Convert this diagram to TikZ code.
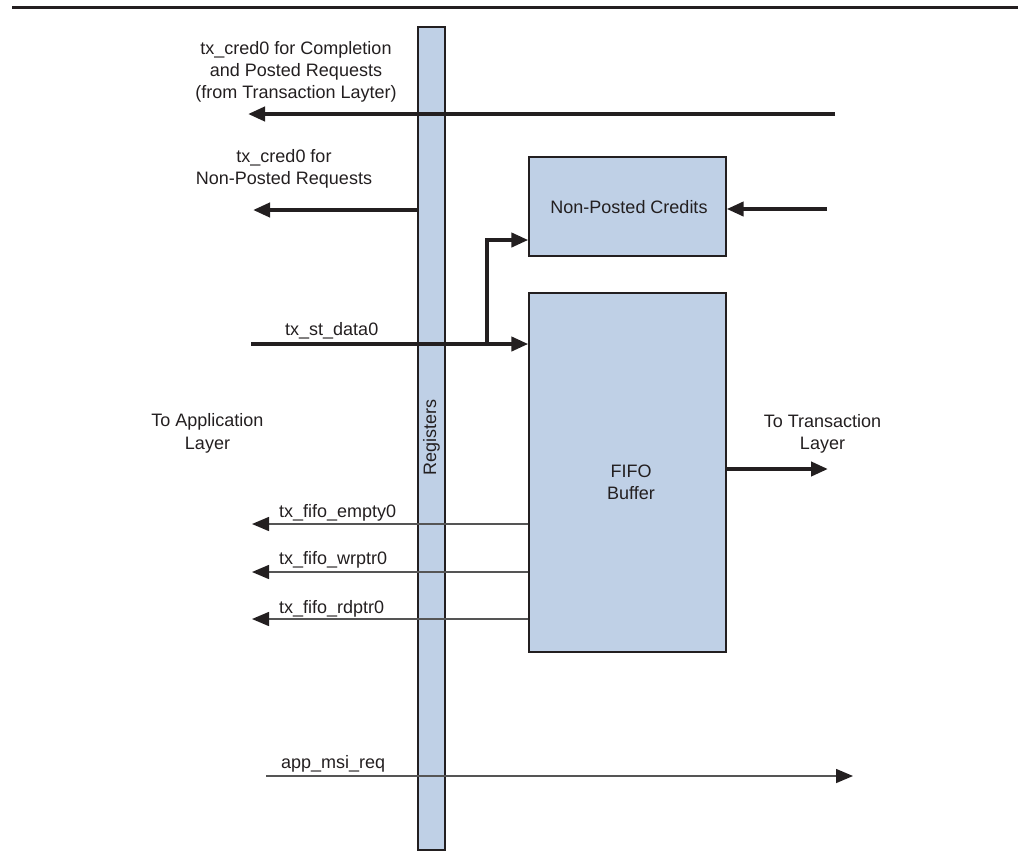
\documentclass[tikz,border=0pt]{standalone}
\usepackage{fontspec}
\setmainfont{Liberation Sans}
\usetikzlibrary{arrows.meta}
\definecolor{ink}{HTML}{231F20}
\definecolor{thinline}{HTML}{555555}
\definecolor{boxblue}{HTML}{BFD0E6}
\tikzset{
  blk/.style={draw=ink, line width=1.3pt, fill=boxblue, inner sep=0pt},
  lbl/.style={inner sep=0pt, text=ink, font=\fontsize{18}{22}\selectfont, anchor=base},
  lbll/.style={lbl, anchor=base west},
  thick conn/.style={draw=ink, line width=4pt, -{Triangle[length=17pt,width=14pt]}},
  thin conn/.style={draw=thinline, line width=1.5pt, -{Triangle[length=17pt,width=14pt,color=ink]}},
}
\begin{document}
\begin{tikzpicture}[x=1pt,y=-1pt]
\useasboundingbox (0,0) rectangle (1018,863);
\draw[ink, line width=3pt] (12,7) -- (1018,7);

% blocks
\node[blk, minimum width=27pt, minimum height=823pt] (reg) at (431.5,438.5) {};
\node[lbl, anchor=center, rotate=90] (reglbl) at (431.5,437) {Registers};
\node[blk, minimum width=197pt, minimum height=99pt] (npc) at (627.5,206.5) {};
\node[lbl] (npclbl) at (629,213) {Non-Posted Credits};
\node[blk, minimum width=197pt, minimum height=359pt] (fifo) at (627.5,472.5) {};
\node[lbl] (fifo1) at (631,477) {FIFO};
\node[lbl] (fifo2) at (631,499) {Buffer};

% coordinates for free ends
\coordinate (c0s) at (835,114);
\coordinate (c0e) at (248,114);
\coordinate (npy) at (0,210);
\coordinate (npe) at (253,210);
\coordinate (npcin) at (827,209);
\coordinate (ds) at (251,344);
\coordinate (br) at (487,344);
\coordinate (bry) at (0,240);
\coordinate (outy) at (0,469);
\coordinate (oute) at (828,469);
\coordinate (e1) at (252,524);
\coordinate (e2) at (252,572);
\coordinate (e3) at (252,619);
\coordinate (ms) at (266,776);
\coordinate (me) at (853,776);

% thick connectors
\draw[thick conn] (c0s) -- (c0e);
\draw[thick conn] (reg.west |- npy) -- (npe);
\draw[thick conn] (npcin) -- (npc.east |- npcin);
\draw[thick conn] (ds) -- (fifo.west |- ds);
\draw[thick conn] (br) |- (npc.west |- bry);
\draw[thick conn] (fifo.east |- outy) -- (oute);

% thin connectors
\draw[thin conn] (fifo.west |- e1) -- (e1);
\draw[thin conn] (fifo.west |- e2) -- (e2);
\draw[thin conn] (fifo.west |- e3) -- (e3);
\draw[thin conn] (ms) -- (me);

% labels
\node[lbl] (t1) at (296,54) {tx\_cred0 for Completion};
\node[lbl] (t2) at (296,76) {and Posted Requests};
\node[lbl] (t3) at (296,98) {(from Transaction Layter)};
\node[lbl] (n1) at (284,162) {tx\_cred0 for};
\node[lbl] (n2) at (284,184) {Non-Posted Requests};
\node[lbll] (dl) at (285,335) {tx\_st\_data0};
\node[lbl] (a1) at (207.5,426) {To Application};
\node[lbl] (a2) at (207.5,449) {Layer};
\node[lbl] (tr1) at (822.5,427) {To Transaction};
\node[lbl] (tr2) at (822.5,449) {Layer};
\node[lbll] (f1) at (279,517) {tx\_fifo\_empty0};
\node[lbll] (f2) at (279,564) {tx\_fifo\_wrptr0};
\node[lbll] (f3) at (279,613) {tx\_fifo\_rdptr0};
\node[lbll] (ml) at (281,768) {app\_msi\_req};
\end{tikzpicture}
\end{document}
